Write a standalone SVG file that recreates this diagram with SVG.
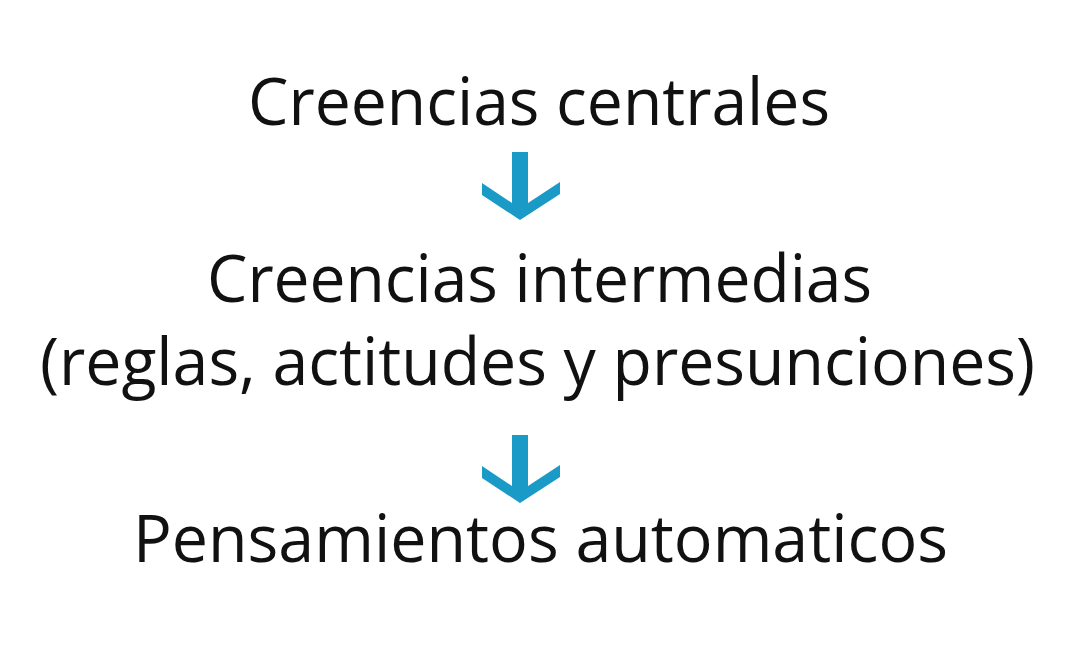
<svg xmlns="http://www.w3.org/2000/svg" width="1078" height="672" viewBox="0 0 1078 672">
<style>
.t{font-family:"Open Sans","Noto Sans",sans-serif;font-size:66px;fill:#111;text-anchor:middle}
.arr{fill:#1a9ac6}
</style>
<defs>
<polygon id="arrow" points="512,152 528,152 528,203 560,182 560,194 520,220 482,195 482,183 512,203"/>
</defs>
<rect width="1078" height="672" fill="#fff"/>
<g id="node-central"><text class="t" x="539" y="125" textLength="582" lengthAdjust="spacingAndGlyphs">Creencias centrales</text></g>
<g id="node-intermedias">
<text class="t" x="539.5" y="302" textLength="665" lengthAdjust="spacingAndGlyphs">Creencias intermedias</text>
<text class="t" x="537.5" y="385" textLength="995" lengthAdjust="spacingAndGlyphs">(reglas, actitudes y presunciones)</text>
</g>
<g id="node-automaticos"><text class="t" x="540.5" y="562" textLength="815" lengthAdjust="spacingAndGlyphs">Pensamientos automaticos</text></g>
<g id="connectors">
<use href="#arrow" class="arr"/>
<use href="#arrow" class="arr" transform="translate(0,283)"/>
</g>
</svg>
